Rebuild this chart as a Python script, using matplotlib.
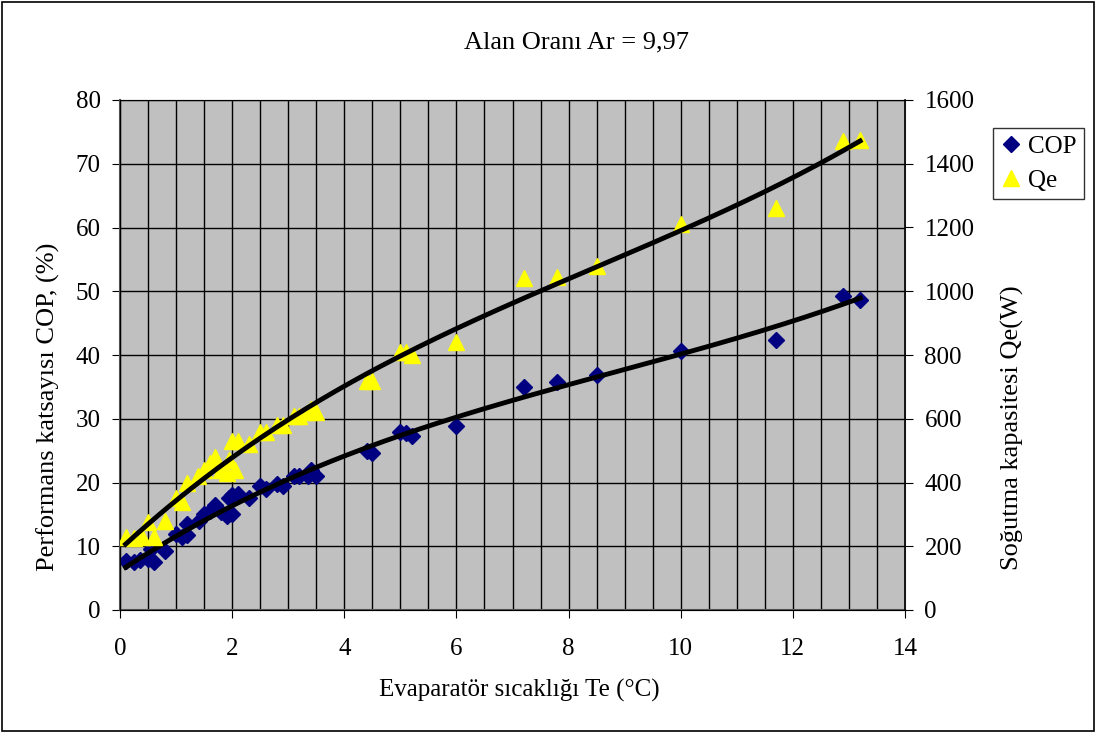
import numpy as np
import matplotlib
matplotlib.use("Agg")
import matplotlib.pyplot as plt
from matplotlib.ticker import MultipleLocator
from matplotlib.patches import Rectangle

plt.rcParams['font.family'] = ['Liberation Serif', 'DejaVu Serif']

title = "Alan Oranı Ar = 9,97"
xlabel = "Evaparatör sıcaklığı Te (°C)"
ylabel_left = "Performans katsayısı COP, (%)"
ylabel_right = "Soğutma kapasitesi Qe(W)"

cop_te = [0.1, 0.25, 0.35, 0.5, 0.6, 0.55, 0.8, 1.0, 1.1, 1.2, 1.2, 1.4, 1.5, 1.6, 1.7,
          1.8, 1.9, 2.0, 1.95, 2.0, 2.1, 2.3, 2.5, 2.6, 2.8, 2.9, 3.1, 3.2, 3.35, 3.4,
          3.5, 4.4, 4.5, 5.0, 5.1, 5.2, 6.0, 7.2, 7.8, 8.5, 10.0, 11.7, 12.9, 13.2]
cop_val = [7.7, 7.5, 7.8, 8.0, 7.5, 9.5, 9.3, 12.0, 11.5, 11.8, 13.5, 14.0, 15.0, 15.5, 16.5,
           15.3, 14.8, 15.0, 17.5, 18.0, 18.2, 17.5, 19.5, 19.0, 19.8, 19.5, 21.0, 21.0, 21.0, 22.0,
           21.0, 25.0, 24.7, 28.0, 27.8, 27.3, 28.8, 35.0, 35.8, 36.8, 40.7, 42.4, 49.2, 48.7]

qe_te = [0.1, 0.25, 0.4, 0.5, 0.6, 0.8, 1.0, 1.1, 1.2, 1.4, 1.5, 1.6, 1.7, 1.8, 1.9,
         1.95, 2.0, 2.05, 2.1, 2.3, 2.5, 2.6, 2.8, 2.9, 3.1, 3.2, 3.35, 3.4, 3.5,
         4.4, 4.5, 5.0, 5.1, 5.2, 6.0, 7.2, 7.8, 8.5, 10.0, 11.7, 12.9, 13.2]
qe_val = [230, 226, 230, 276, 230, 280, 350, 340, 400, 420, 440, 460, 480, 440, 430,
          470, 530, 440, 530, 520, 560, 560, 580, 580, 610, 610, 620, 630, 620,
          720, 720, 810, 810, 800, 840, 1040, 1046, 1080, 1210, 1260, 1470, 1476]

W, H = 1097, 733
fig = plt.figure(figsize=(W / 100, H / 100), dpi=100)
fig.patch.set_facecolor('white')
fig.add_artist(Rectangle((0.002, 0.003), 0.995, 0.994, transform=fig.transFigure,
                         fill=False, edgecolor='black', linewidth=1.2))

ax = fig.add_axes([120 / W, 1 - 610 / H, 785 / W, 510 / H])
ax.set_facecolor('#c0c0c0')
ax.set_xlim(0, 14)
ax.set_ylim(0, 80)
ax.xaxis.set_major_locator(MultipleLocator(2))
ax.xaxis.set_minor_locator(MultipleLocator(0.5))
ax.yaxis.set_major_locator(MultipleLocator(10))
ax.grid(True, which='both', axis='x', color='black', linewidth=1.0)
ax.grid(True, which='major', axis='y', color='black', linewidth=1.0)
ax.set_axisbelow(True)
ax.tick_params(axis='x', which='minor', length=0)
ax.tick_params(axis='y', which='major', direction='out', length=6, labelsize=18, pad=8)
ax.tick_params(axis='x', which='major', direction='out', length=6, labelsize=18, pad=14)
for s in ['top', 'right']:
    ax.spines[s].set_color('#808080')
for s in ['left', 'bottom']:
    ax.spines[s].set_color('#555555')
    ax.spines[s].set_linewidth(1.5)

ax2 = ax.twinx()
ax2.set_ylim(0, 1600)
ax2.yaxis.set_major_locator(MultipleLocator(200))
ax2.tick_params(axis='y', direction='out', length=6, labelsize=18, pad=8)
ax2.spines['right'].set_color('black')
ax2.spines['right'].set_linewidth(1.2)

ax.plot(cop_te, cop_val, linestyle='none', marker='D', markersize=8.5,
        color='#000080', label='COP', zorder=3)
ax2.plot(qe_te, qe_val, linestyle='none', marker='^', markersize=12,
         color='#ffff00', label='Qe', zorder=3)

# Trend lines (3rd order polynomial fits from the data)
xs = np.linspace(min(cop_te), max(cop_te), 200)
pc = np.polyfit(cop_te, cop_val, 3)
ax.plot(xs, np.polyval(pc, xs), color='black', linewidth=3.5, zorder=4)
xq = np.linspace(min(qe_te), max(qe_te), 200)
pq = np.polyfit(qe_te, qe_val, 3)
ax2.plot(xq, np.polyval(pq, xq), color='black', linewidth=3.5, zorder=4)

ax.set_xlabel(xlabel, fontsize=18)
ax.xaxis.set_label_coords((519 - 120) / 785, -(690 - 610) / 510)
ax.set_ylabel(ylabel_left, fontsize=19)
ax.yaxis.set_label_coords((48 - 120) / 785, (610 - 407) / 510)
ax2.set_ylabel(ylabel_right, fontsize=19)
ax2.yaxis.set_label_coords((1012 - 120) / 785, (610 - 428) / 510)
for lab in (ax.xaxis.label, ax.yaxis.label, ax2.yaxis.label):
    lab.set_verticalalignment('center')
fig.text(577 / W, 1 - 42 / H, title, ha='center', va='center', fontsize=19)

h1, l1 = ax.get_legend_handles_labels()
h2, l2 = ax2.get_legend_handles_labels()
leg = fig.legend(h1 + h2, l1 + l2, loc='upper left', bbox_to_anchor=(993 / W, 1 - 128 / H),
                 frameon=True, fancybox=False, edgecolor='black', fontsize=18,
                 handlelength=0.8, handletextpad=0.3, borderpad=0.3, labelspacing=0.45,
                 borderaxespad=0)
leg.get_frame().set_linewidth(1.0)

fig.savefig('out.png', dpi=100)
